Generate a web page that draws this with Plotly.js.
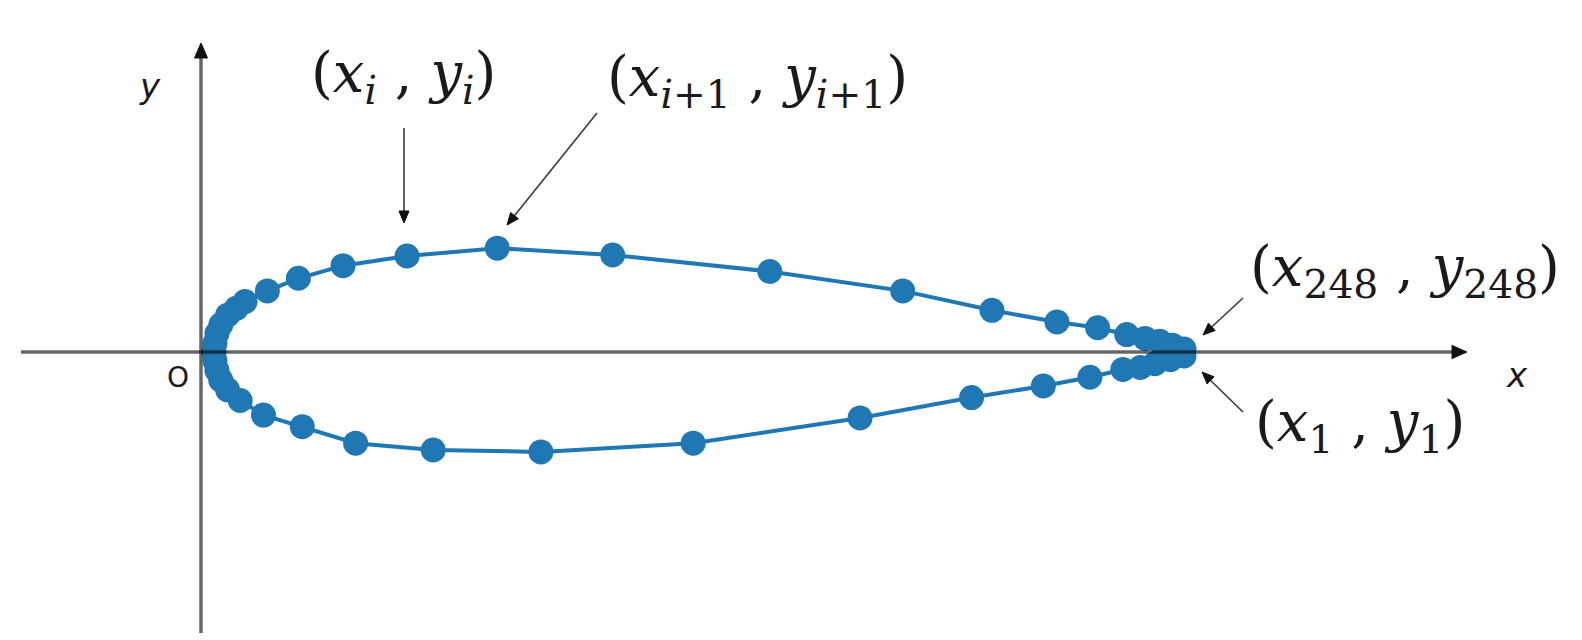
<!DOCTYPE html>
<html>
<head>
<meta charset="utf-8">
<script src="https://cdn.plot.ly/plotly-3.0.1.min.js"></script>
<style>html,body{margin:0;padding:0;background:#fff;}#chart{width:1582px;height:640px;}</style>
</head>
<body>
<div id="chart"></div>
<script>
// Airfoil surface points (chord-normalised), numbered from lower trailing edge (1) round the leading edge to upper trailing edge (248)
const lowerX = [1.000, 0.986, 0.970, 0.955, 0.937, 0.903, 0.855, 0.781, 0.666, 0.494, 0.337, 0.226, 0.146, 0.091, 0.051, 0.027, 0.014, 0.007, 0.003, 0.001, 0.000];
const lowerY = [-0.004, -0.008, -0.012, -0.016, -0.018, -0.026, -0.035, -0.047, -0.068, -0.094, -0.103, -0.101, -0.094, -0.077, -0.065, -0.050, -0.039, -0.029, -0.019, -0.009, 0.000];
const upperX = [0.001, 0.003, 0.007, 0.014, 0.023, 0.032, 0.055, 0.087, 0.133, 0.199, 0.292, 0.411, 0.573, 0.710, 0.802, 0.869, 0.911, 0.941, 0.960, 0.975, 0.988, 1.000];
const upperY = [0.009, 0.019, 0.028, 0.038, 0.045, 0.052, 0.063, 0.076, 0.089, 0.099, 0.107, 0.100, 0.083, 0.063, 0.043, 0.031, 0.025, 0.018, 0.014, 0.011, 0.007, 0.003];

// Text labels
const labelXi   = '(<i>x</i><sub><i>i</i></sub> , <i>y</i><sub><i>i</i></sub>)';
const labelXi1  = '(<i>x</i><sub><i>i</i>+1</sub> , <i>y</i><sub><i>i</i>+1</sub>)';
const labelX248 = '(<i>x</i><sub>248</sub> , <i>y</i><sub>248</sub>)';
const labelX1   = '(<i>x</i><sub>1</sub> , <i>y</i><sub>1</sub>)';
const axisLabelX = 'x';
const axisLabelY = 'y';
const originLabel = 'O';

// pixel -> data helpers (page geometry only)
const W = 1582, H = 640, X0 = 214, Y0 = 352, S = 970;
const X = px => (px - X0) / S;
const Y = py => (Y0 - py) / S;

const blue = '#1f77b4';
const axisGray = 'rgba(0,0,0,0.6)';
const mathFont = {family: 'DejaVu Serif', size: 56, color: '#1a1a1a'};
const sansFont = {family: 'DejaVu Sans', size: 34, color: '#1a1a1a'};

const trace = {
  x: lowerX.concat(upperX),
  y: lowerY.concat(upperY),
  type: 'scatter',
  mode: 'lines+markers',
  line: {color: blue, width: 4},
  marker: {color: blue, size: 25},
  hoverinfo: 'skip',
  showlegend: false
};

// arrow = line shape + triangular head (pixel-sized path anchored at the tip)
function arrowShapes(tipPx, tipPy, tailPx, tailPy, lineColor, headColor, width, headLen, headHalf) {
  const dx = tipPx - tailPx, dy = tipPy - tailPy;
  const L = Math.hypot(dx, dy);
  const ux = dx / L, uy = dy / L;           // screen direction tail->tip
  const endPx = tipPx - ux * headLen * 0.8, endPy = tipPy - uy * headLen * 0.8;
  // base of head in screen offsets, then flip y for pixel-path (y up)
  const bx = -ux * headLen, by = -uy * headLen;
  const nx = -uy * headHalf, ny = ux * headHalf;
  const p1 = [bx + nx, -(by + ny)], p2 = [bx - nx, -(by - ny)];
  return [
    {type: 'line', xref: 'x', yref: 'y', x0: X(tailPx), y0: Y(tailPy), x1: X(endPx), y1: Y(endPy),
     line: {color: lineColor, width: width}, layer: 'above'},
    {type: 'path', xref: 'x', yref: 'y', xsizemode: 'pixel', ysizemode: 'pixel',
     xanchor: X(tipPx), yanchor: Y(tipPy),
     path: 'M0,0 L' + p1[0].toFixed(2) + ',' + p1[1].toFixed(2) + ' L' + p2[0].toFixed(2) + ',' + p2[1].toFixed(2) + ' Z',
     fillcolor: headColor, line: {color: headColor, width: 1}, layer: 'above'}
  ];
}

const shapes = [].concat(
  arrowShapes(1467, 352, 21, 352, axisGray, '#111', 3.5, 15, 6.5),
  arrowShapes(201, 43, 201, 633, axisGray, '#111', 3.5, 15, 6.5),
  arrowShapes(404, 223, 404, 128, '#3a3a3a', '#111', 1.6, 12, 5),
  arrowShapes(507, 225, 597, 113, '#3a3a3a', '#111', 1.6, 12, 5),
  arrowShapes(1203, 335, 1243, 298, '#3a3a3a', '#111', 1.6, 12, 5),
  arrowShapes(1202, 372, 1243, 412, '#3a3a3a', '#111', 1.6, 12, 5)
);

function label(cx, cy, txt, font) {
  return {
    x: X(cx), y: Y(cy), xref: 'x', yref: 'y', text: txt, showarrow: false,
    font: font, xanchor: 'center', yanchor: 'middle'
  };
}

const annotations = [
  label(403, 76, labelXi, mathFont),
  label(757, 80, labelXi1, mathFont),
  label(1405, 270, labelX248, mathFont),
  label(1360, 425, labelX1, mathFont),
  label(1517, 375, '<i>' + axisLabelX + '</i>', sansFont),
  label(150, 86, '<i>' + axisLabelY + '</i>', sansFont),
  label(178, 377, originLabel, {family: 'DejaVu Sans', size: 28, color: '#1a1a1a'})
];

const layout = {
  width: W, height: H,
  margin: {l: 0, r: 0, t: 0, b: 0, pad: 0},
  paper_bgcolor: '#fff', plot_bgcolor: '#fff',
  xaxis: {range: [X(0), X(W)], visible: false, fixedrange: true},
  yaxis: {range: [Y(H), Y(0)], visible: false, fixedrange: true},
  shapes: shapes,
  annotations: annotations,
  showlegend: false
};

Plotly.newPlot('chart', [trace], layout, {displayModeBar: false, staticPlot: true});
</script>
</body>
</html>
